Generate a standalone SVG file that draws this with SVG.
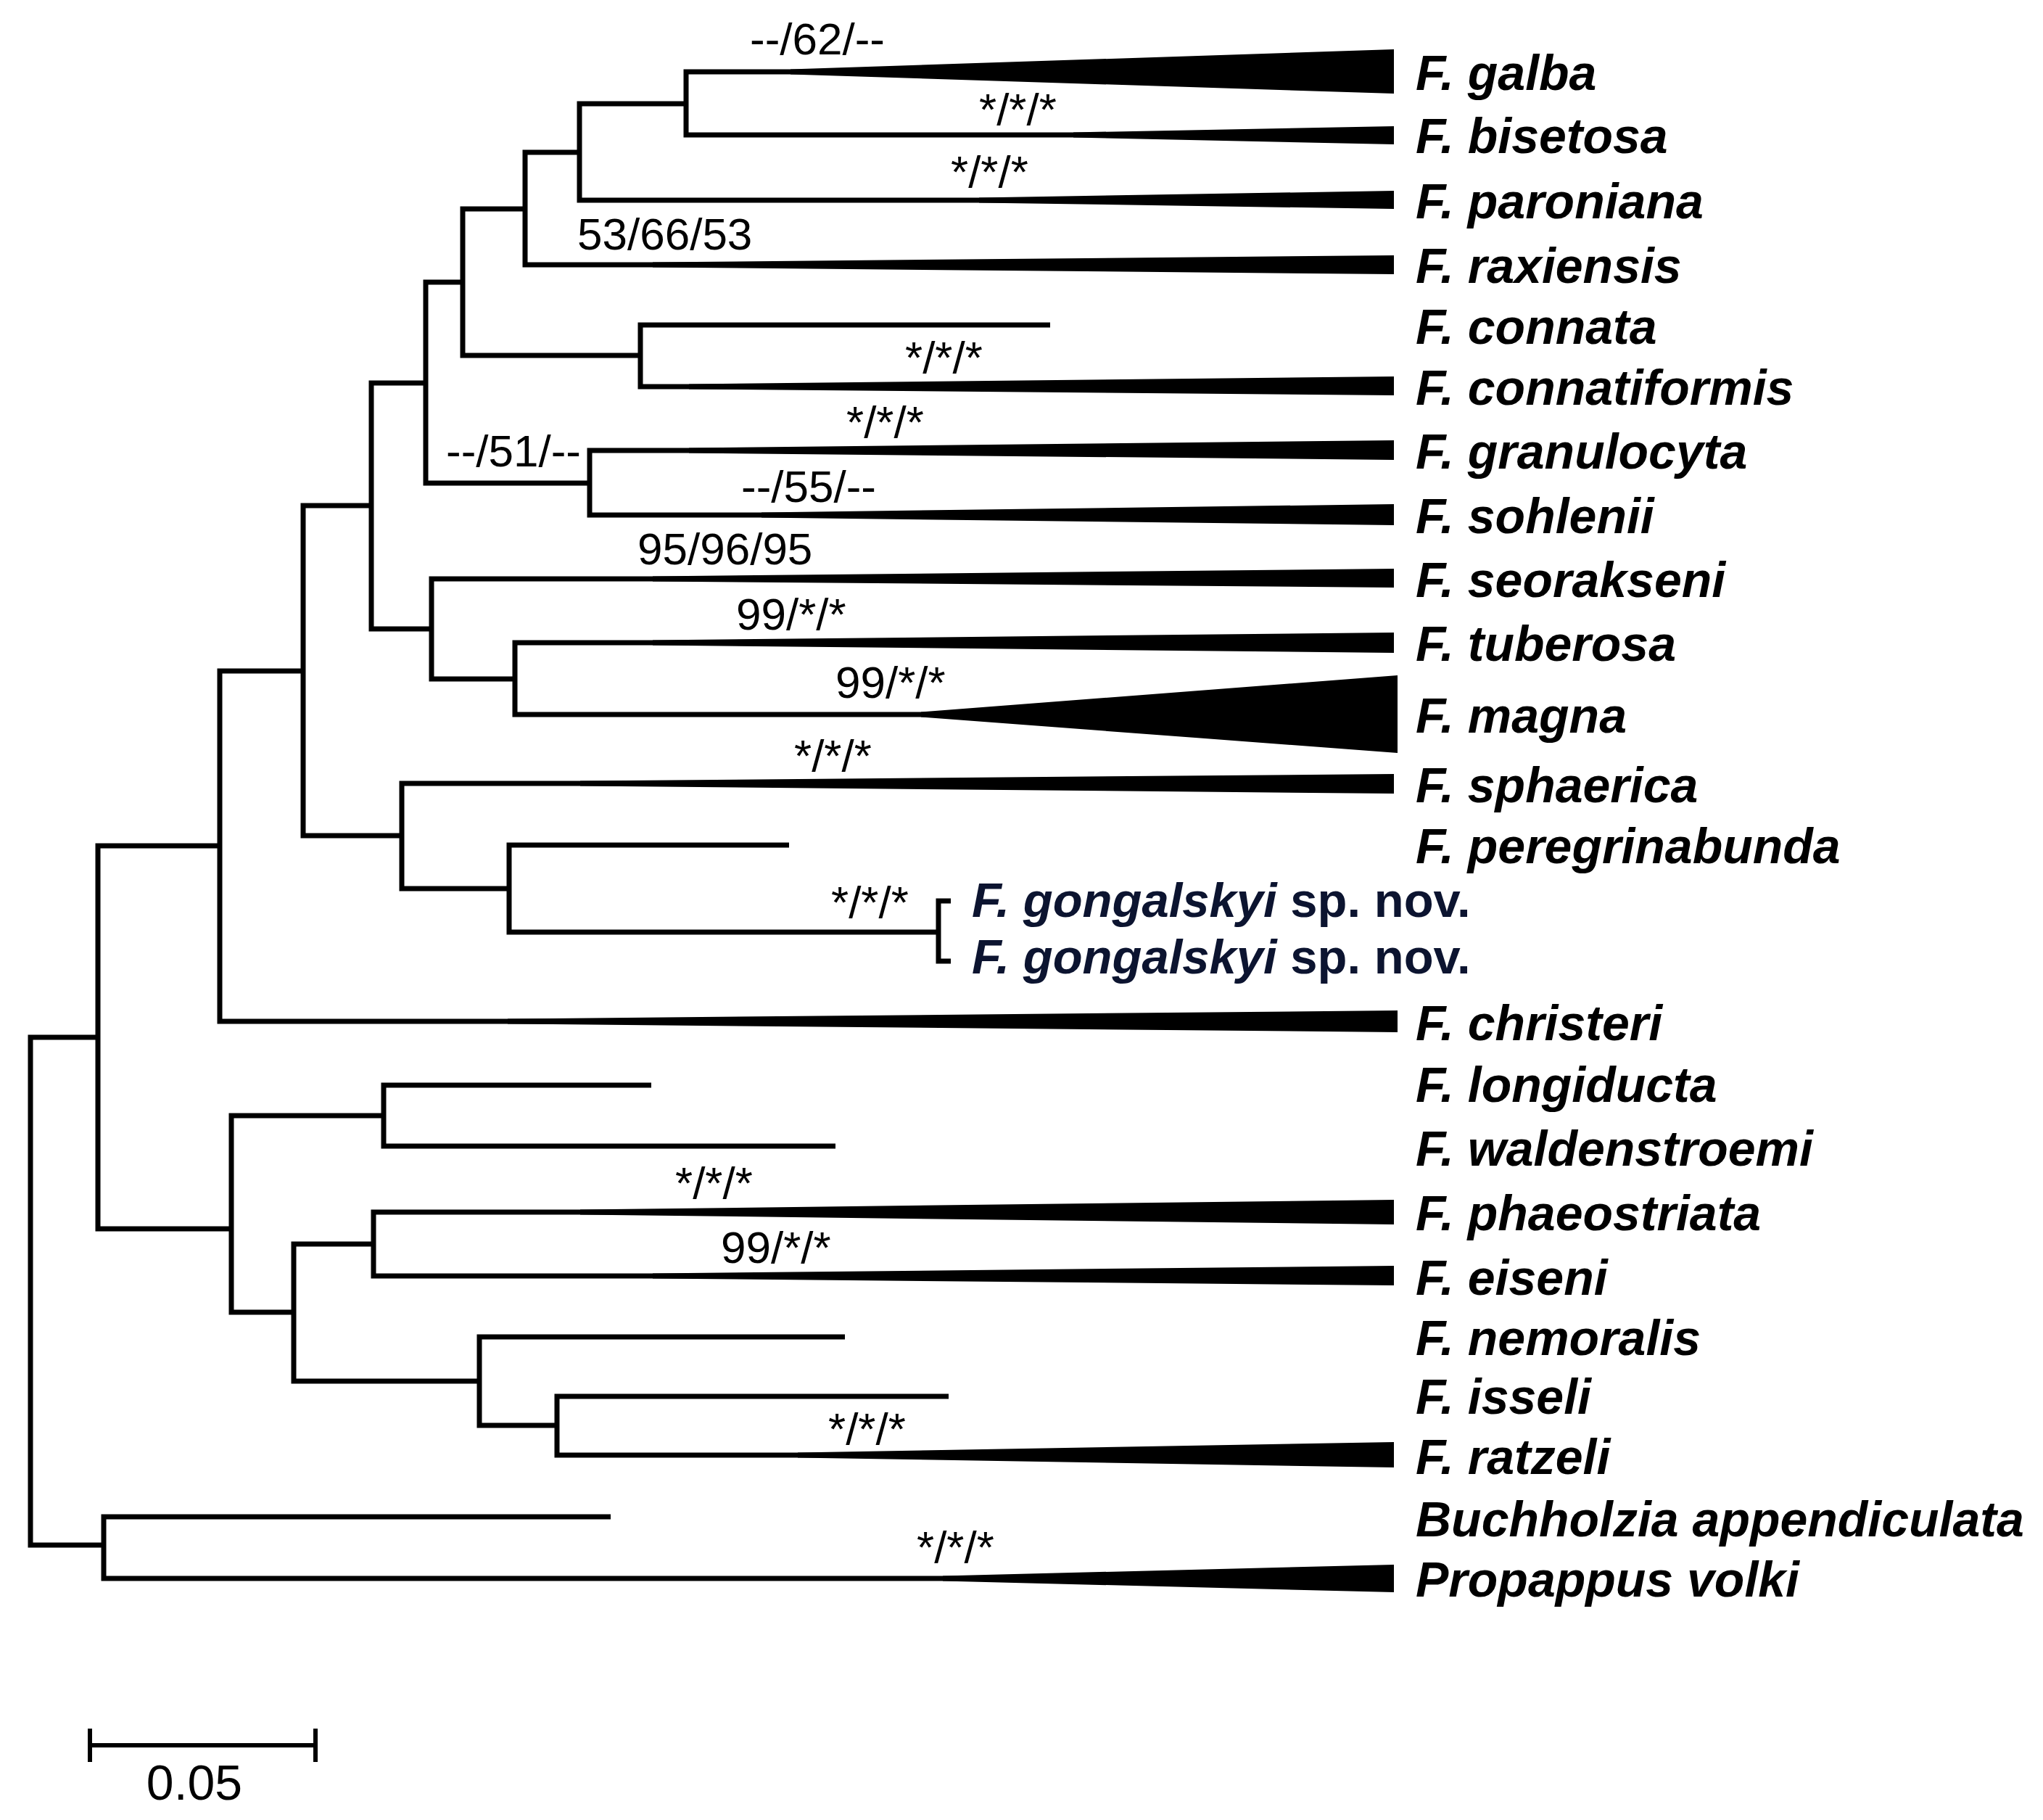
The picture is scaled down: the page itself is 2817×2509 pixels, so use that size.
<svg xmlns="http://www.w3.org/2000/svg" width="2817" height="2509" viewBox="0 0 2817 2509">
<style>
.br{fill:none;stroke:#000;stroke-width:7;stroke-linejoin:miter;stroke-linecap:butt}
.wd{fill:#000;stroke:none}
.tx{font-family:"Liberation Sans",Arial,sans-serif;font-size:68px;font-weight:bold;font-style:italic;fill:#000}
.nv{font-family:"Liberation Sans",Arial,sans-serif;font-size:67px;font-weight:bold;fill:#0c1430}
.nv tspan.i{font-style:italic}
.bs{font-family:"Liberation Sans",Arial,sans-serif;font-size:62px;fill:#000}
.sc{fill:none;stroke:#000;stroke-width:6}
</style>
<rect width="2817" height="2509" fill="#fff"/>
<g id="connectors">
<path class="br" d="M135,1430 H42 V2130 H143"/>
<path class="br" d="M303,1166 H135 V1694 H319"/>
<path class="br" d="M418,925 H303 V1408 H1920"/>
<path class="br" d="M512,697 H418 V1152 H554"/>
<path class="br" d="M587,528 H512 V867 H595"/>
<path class="br" d="M638,389 H587 V666 H813"/>
<path class="br" d="M724,288 H638 V490 H883"/>
<path class="br" d="M799,210 H724 V365 H1918"/>
<path class="br" d="M946,143 H799 V276 H1918"/>
<path class="br" d="M1918,99 H946 V186 H1918"/>
<path class="br" d="M1448,448 H883 V533 H1918"/>
<path class="br" d="M1918,621 H813 V710 H1918"/>
<path class="br" d="M1918,798 H595 V936 H710"/>
<path class="br" d="M1918,886 H710 V985 H1920"/>
<path class="br" d="M1918,1080 H554 V1225 H702"/>
<path class="br" d="M1088,1165 H702 V1285 H1292"/>
<path class="br" d="M1311,1242 H1294 V1325 H1311"/>
<path class="br" d="M529,1538 H319 V1809 H405"/>
<path class="br" d="M898,1496 H529 V1580 H1152"/>
<path class="br" d="M515,1715 H405 V1904 H661"/>
<path class="br" d="M1918,1671 H515 V1759 H1918"/>
<path class="br" d="M1165,1843 H661 V1965 H768"/>
<path class="br" d="M1308,1925 H768 V2006 H1918"/>
<path class="br" d="M842,2091 H143 V2176 H1918"/>
</g>
<g id="support">
<text class="bs" x="1034" y="75">--/62/--</text>
<text class="bs" x="1350" y="172">*/*/*</text>
<text class="bs" x="1311" y="258">*/*/*</text>
<text class="bs" x="796" y="344">53/66/53</text>
<text class="bs" x="1248" y="514">*/*/*</text>
<text class="bs" x="1167" y="603">*/*/*</text>
<text class="bs" x="615" y="643">--/51/--</text>
<text class="bs" x="1022" y="692">--/55/--</text>
<text class="bs" x="879" y="778">95/96/95</text>
<text class="bs" x="1015" y="868">99/*/*</text>
<text class="bs" x="1152" y="962">99/*/*</text>
<text class="bs" x="1095" y="1063">*/*/*</text>
<text class="bs" x="1146" y="1265">*/*/*</text>
<text class="bs" x="931" y="1652">*/*/*</text>
<text class="bs" x="994" y="1741">99/*/*</text>
<text class="bs" x="1142" y="1991">*/*/*</text>
<text class="bs" x="1264" y="2154">*/*/*</text>
</g>
<g id="galba"><polygon class="wd" points="1090,95.5 1922,68 1922,129 1090,102.5"/><text class="tx" x="1952" y="124">F. galba</text></g>
<g id="bisetosa"><polygon class="wd" points="1480,182.5 1922,174 1922,199 1480,189.5"/><text class="tx" x="1952" y="211">F. bisetosa</text></g>
<g id="paroniana"><polygon class="wd" points="1350,272.5 1922,263 1922,288 1350,279.5"/><text class="tx" x="1952" y="301">F. paroniana</text></g>
<g id="raxiensis"><polygon class="wd" points="900,361.5 1922,352 1922,378 900,368.5"/><text class="tx" x="1952" y="390">F. raxiensis</text></g>
<g id="connata"><text class="tx" x="1952" y="474">F. connata</text></g>
<g id="connatiformis"><polygon class="wd" points="950,529.5 1922,519 1922,545 950,536.5"/><text class="tx" x="1952" y="558">F. connatiformis</text></g>
<g id="granulocyta"><polygon class="wd" points="950,617.5 1922,607 1922,634 950,624.5"/><text class="tx" x="1952" y="646">F. granulocyta</text></g>
<g id="sohlenii"><polygon class="wd" points="1050,706.5 1922,695 1922,724 1050,713.5"/><text class="tx" x="1952" y="735">F. sohlenii</text></g>
<g id="seorakseni"><polygon class="wd" points="900,794.5 1922,784 1922,810 900,801.5"/><text class="tx" x="1952" y="823">F. seorakseni</text></g>
<g id="tuberosa"><polygon class="wd" points="900,882.5 1922,872 1922,900 900,889.5"/><text class="tx" x="1952" y="911">F. tuberosa</text></g>
<g id="magna"><polygon class="wd" points="1270,981.5 1927,931 1927,1038 1270,988.5"/><text class="tx" x="1952" y="1010">F. magna</text></g>
<g id="sphaerica"><polygon class="wd" points="800,1076.5 1922,1067 1922,1094 800,1083.5"/><text class="tx" x="1952" y="1106">F. sphaerica</text></g>
<g id="peregrinabunda"><text class="tx" x="1952" y="1190">F. peregrinabunda</text></g>
<g id="gongalskyi1"><text class="nv" x="1340" y="1264"><tspan class="i">F. gongalskyi</tspan> sp. nov.</text></g>
<g id="gongalskyi2"><text class="nv" x="1340" y="1342"><tspan class="i">F. gongalskyi</tspan> sp. nov.</text></g>
<g id="christeri"><polygon class="wd" points="700,1404.5 1927,1393 1927,1423 700,1411.5"/><text class="tx" x="1952" y="1434">F. christeri</text></g>
<g id="longiducta"><text class="tx" x="1952" y="1519">F. longiducta</text></g>
<g id="waldenstroemi"><text class="tx" x="1952" y="1607">F. waldenstroemi</text></g>
<g id="phaeostriata"><polygon class="wd" points="800,1667.5 1922,1654 1922,1688 800,1674.5"/><text class="tx" x="1952" y="1696">F. phaeostriata</text></g>
<g id="eiseni"><polygon class="wd" points="900,1755.5 1922,1745 1922,1772 900,1762.5"/><text class="tx" x="1952" y="1785">F. eiseni</text></g>
<g id="nemoralis"><text class="tx" x="1952" y="1868">F. nemoralis</text></g>
<g id="isseli"><text class="tx" x="1952" y="1949">F. isseli</text></g>
<g id="ratzeli"><polygon class="wd" points="1100,2002.5 1922,1988 1922,2023 1100,2009.5"/><text class="tx" x="1952" y="2032">F. ratzeli</text></g>
<g id="buchholzia"><text class="tx" x="1952" y="2118">Buchholzia appendiculata</text></g>
<g id="propappus"><polygon class="wd" points="1300,2172.5 1922,2157 1922,2195 1300,2179.5"/><text class="tx" x="1952" y="2201">Propappus volki</text></g>
<g id="scalebar">
<path class="sc" d="M124,2406 H435 M124,2383 V2429 M435,2383 V2429"/>
<text class="bs" x="268" y="2481" text-anchor="middle" style="font-size:68px">0.05</text>
</g>
</svg>
